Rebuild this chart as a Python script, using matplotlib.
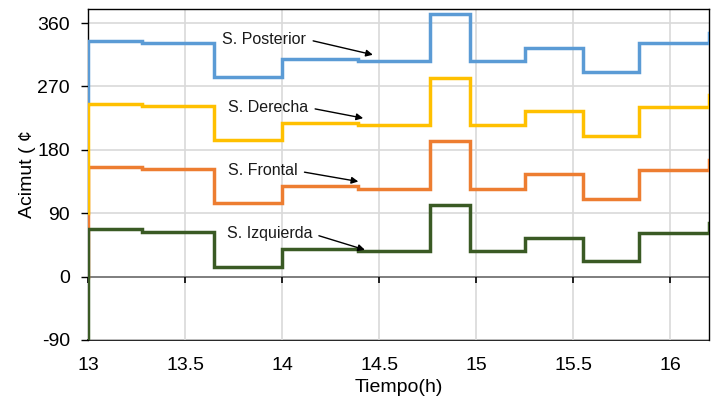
import numpy as np
import matplotlib.pyplot as plt

plt.rcParams['font.family'] = ['Liberation Sans', 'DejaVu Sans']
plt.rcParams['axes.unicode_minus'] = False

# --- datos ---
t = [13.0, 13.0, 13.28, 13.65, 14.0, 14.39, 14.76, 14.97, 15.25, 15.55, 15.84, 16.2]

posterior = [245, 335, 332, 284, 309, 306, 373, 306, 325, 290, 332, 346]
derecha = [90, 245, 242, 194, 218, 215, 282, 215, 235, 200, 241, 258]
frontal = [0, 156, 153, 104, 128, 125, 193, 125, 145, 110, 151, 165]
izquierda = [-100, 67, 63, 14, 39, 36, 102, 36, 55, 22, 62, 76]

series = [
    ('S. Posterior', posterior, '#5B9BD5'),
    ('S. Frontal', frontal, '#ED7D31'),
    ('S. Derecha', derecha, '#FFC000'),
    ('S. Izquierda', izquierda, '#3A5A24'),
]

# etiquetas: (texto, pos. texto, punta flecha)
etiquetas = [
    ('S. Posterior', (14.125, 337), (14.468, 315)),
    ('S. Derecha', (14.135, 240), (14.418, 225)),
    ('S. Frontal', (14.08, 150), (14.393, 135)),
    ('S. Izquierda', (14.155, 61), (14.427, 38)),
]

xticks = [13, 13.5, 14, 14.5, 15, 15.5, 16]
yticks = [-90, 0, 90, 180, 270, 360]

fig = plt.figure(figsize=(7.13, 4.05), dpi=100)
ax = fig.add_axes([0.1234, 0.1605, 0.871, 0.8173])

for nombre, vals, color in series:
    ax.plot(t, vals, drawstyle='steps-post', color=color, lw=2.5,
            solid_joinstyle='miter', zorder=3)

for texto, xy_txt, xy in etiquetas:
    ax.annotate(texto, xy=xy, xytext=xy_txt, ha='right', va='center',
                fontsize=11.5, color='#1a1a1a', zorder=5,
                arrowprops=dict(arrowstyle='-|>', color='black', lw=1.0,
                                mutation_scale=10, relpos=(1, 0.5),
                                shrinkA=3, shrinkB=0))

ax.set_xlim(13, 16.2)
ax.set_ylim(-90, 380)
ax.set_yticks(yticks)
ax.set_xticks(xticks)

ax.grid(True, color='#d9d9d9', lw=1.2, zorder=0)
ax.set_axisbelow(True)
ax.axhline(0, color='#6f6f6f', lw=1.2, zorder=1)

# eje x cruzando en 0 (solo marcas)
ax.spines['bottom'].set_visible(False)
ax.tick_params(axis='x', length=0, labelbottom=False)
ax.tick_params(axis='y', direction='out', length=5, width=1, pad=8,
               labelsize=14)
for s in ['top', 'right', 'left']:
    ax.spines[s].set_color('black')
    ax.spines[s].set_linewidth(1)

sec0 = ax.secondary_xaxis(90 / 470)
sec0.set_zorder(2)
sec0.set_xticks(xticks)
sec0.tick_params(direction='out', length=4, width=1.2, color='black',
                 labelbottom=False)
sec0.spines['bottom'].set_visible(False)

sec = ax.secondary_xaxis('bottom')
sec.set_xticks(xticks)
sec.set_xticklabels(['13', '13.5', '14', '14.5', '15', '15.5', '16'])
sec.tick_params(length=0, pad=12, labelsize=14)
sec.spines['bottom'].set_color('black')
sec.spines['bottom'].set_linewidth(1.2)
sec.set_xlabel('Tiempo(h)', fontsize=14, labelpad=4)

ax.set_ylabel('Acimut ( ¢', fontsize=14, labelpad=1)

fig.savefig('out.png', dpi=100)
